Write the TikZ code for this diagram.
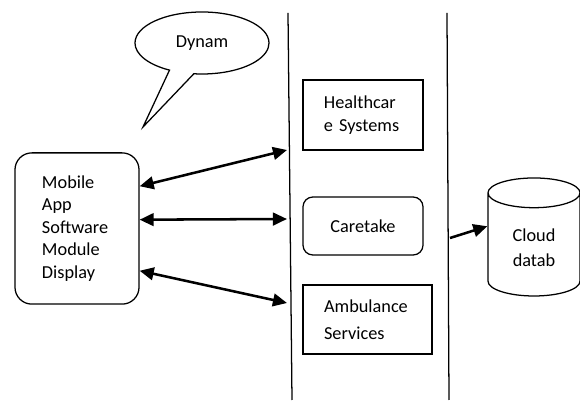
\documentclass[tikz,border=0pt]{standalone}
\usepackage{fontspec}
\setmainfont{Carlito}
\usetikzlibrary{arrows.meta, shapes.geometric, shapes.callouts}

\begin{document}
\begin{tikzpicture}[x=0.025cm, y=-0.025cm, line width=0.9pt, font=\fontsize{13}{16}\selectfont,
    box/.style = {draw, align=left, inner sep=0pt},
    link/.style = {{Triangle[length=10pt, width=9pt]}-{Triangle[length=10pt, width=9pt]}, line width=1.8pt}]

        \useasboundingbox (0,0) rectangle (580,405);

        % speech bubble
        \node[draw, ellipse callout, callout absolute pointer={(143,127)}, callout pointer arc=22,
              minimum width=3.35cm, minimum height=1.55cm] (bubble) at (202,43) {Dynam};

        % mobile side
        \node[box, rounded corners=12pt, minimum width=3.1cm, minimum height=3.78cm, text width=1.75cm] (mob) at (77,228.5) {Mobile\\ App\\ Software\\ Module\\ Display};

        % the two walls
        \coordinate (ltop) at (288,13); \coordinate (lbot) at (292,400);
        \coordinate (rtop) at (447,13); \coordinate (rbot) at (449,400);
        \draw (ltop) -- (lbot);
        \draw (rtop) -- (rbot);

        % services between the walls
        \node[box, minimum width=3cm, minimum height=1.75cm, text width=1.95cm] (care) at (363,115) {Healthcar\\ e Systems};
        \node[box, rounded corners=7pt, minimum width=3cm, minimum height=1.45cm, align=center] (taker) at (363,226) {Caretake};
        \node[box, minimum width=3.22cm, minimum height=1.73cm, text width=2.17cm] (amb) at (367.5,319.5) {Ambulance\\[3pt] Services};

        % storage
        \node[draw, cylinder, shape border rotate=90, aspect=0.57, minimum height=2.95cm, minimum width=2.3cm, align=center] (db) at (534,248) {Cloud\\[2pt] datab};

        % links
        \coordinate (w1) at (287,150); \coordinate (w2) at (287,219); \coordinate (w3) at (287,303);
        \draw[link] (mob.34) -- (w1);
        \draw[link] (mob.8) -- (w2);
        \draw[link] (mob.-34) -- (w3);

        \coordinate (w4) at (450,238);
        \draw[line width=1.8pt, -{Triangle[length=10pt, width=9pt]}] (w4) -- (db.155);
    \end{tikzpicture}
\end{document}
